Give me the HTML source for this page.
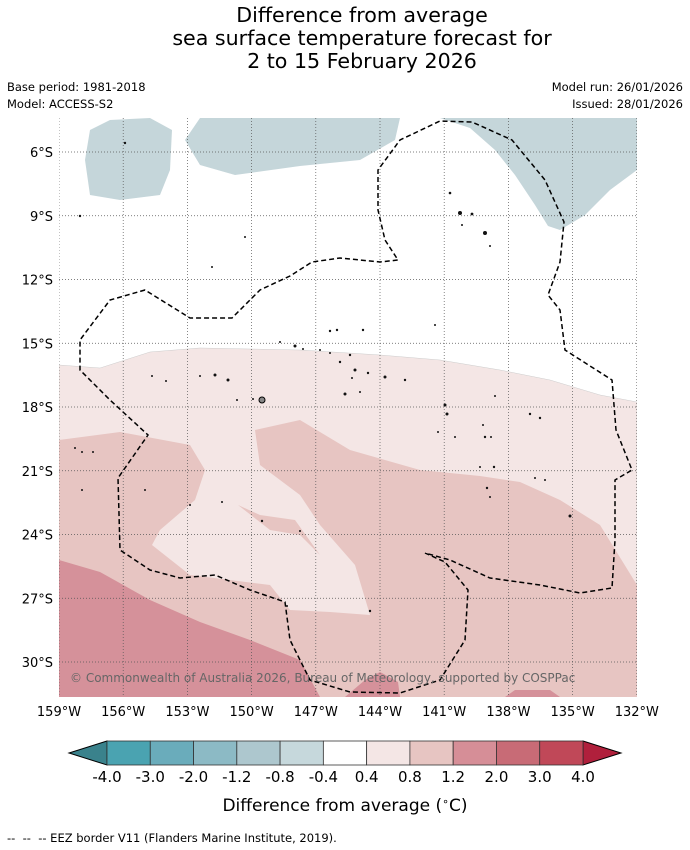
<!DOCTYPE html>
<html><head><meta charset="utf-8">
<style>
body{margin:0;background:#fff;font-family:"Liberation Sans","DejaVu Sans",sans-serif;}
#wrap{position:relative;width:690px;height:850px;overflow:hidden;}
svg text{font-family:"DejaVu Sans","Liberation Sans",sans-serif;}
</style></head>
<body>
<div id="wrap">
<svg id="svg" width="690" height="850" xmlns="http://www.w3.org/2000/svg">
<g font-size="20.6" text-anchor="middle" fill="#000">
<text x="362" y="22">Difference from average</text>
<text x="362" y="45">sea surface temperature forecast for</text>
<text x="362" y="68">2 to 15 February 2026</text>
</g>
<g font-size="11.5" fill="#000">
<text x="7" y="91">Base period: 1981-2018</text>
<text x="7" y="108">Model: ACCESS-S2</text>
<text x="683" y="91" text-anchor="end">Model run: 26/01/2026</text>
<text x="683" y="108" text-anchor="end">Issued: 28/01/2026</text>
</g>
<defs><clipPath id="mc"><rect x="59" y="118" width="578" height="579"/></clipPath></defs>
<g clip-path="url(#mc)">
<rect x="59" y="118" width="578" height="579" fill="#fff"/>
<path fill="#c5d6da" d="M90,130 L110,120 L150,118 L172,130 L170,170 L160,195 L120,200 L90,195 L85,160Z"/>
<path fill="#c5d6da" d="M200,118 L400,118 L395,140 L360,160 L300,166 L235,175 L200,165 L185,140Z"/>
<path fill="#c5d6da" d="M440,118 L637,118 L637,170 L610,190 L585,215 L560,230 L548,226 L535,205 L515,175 L495,150 L470,128Z"/>
<path fill="#f4e6e5" stroke="#ccc" stroke-width="0.5" d="M59,365 L100,368 L150,352 L200,348 L300,350 L380,355 L440,360 L500,370 L550,380 L600,395 L637,402 L637,697 L59,697Z"/>
<path fill="#e7c5c2" d="M59,440 L120,432 L190,445 L205,470 L195,500 L160,530 L152,545 L190,575 L230,580 L270,585 L290,610 L330,612 L370,615 L355,565 L320,525 L300,495 L260,465 L255,430 L300,420 L350,450 L420,470 L480,476 L520,482 L560,500 L600,525 L637,585 L637,697 L59,697Z"/>
<path fill="#e7c5c2" d="M238,505 L260,515 L295,520 L320,555 L300,535 L270,530Z"/>
<path fill="#d5919a" d="M59,560 L100,572 L150,600 L200,622 L250,640 L300,660 L320,697 L59,697Z"/>
<path fill="#d5919a" d="M345,697 L365,680 L380,672 L398,682 L400,697Z M505,697 L515,690 L550,690 L560,697Z"/>
<g id="grid" stroke="#555" stroke-width="0.7" stroke-dasharray="1,2"></g>
<path fill="none" stroke="#000" stroke-width="1.5" stroke-dasharray="5,3" d="M145,290 L110,300 L80,340 L80,370 L110,400 L148,435 L118,478 L120,550 L150,570 L180,578 L215,575 L250,590 L285,602 L290,640 L310,680 L350,692 L400,693 L440,680 L465,640 L468,590 L445,562 L425,553 L450,560 L490,578 L540,585 L580,593 L612,588 L615,540 L615,480 L632,470 L616,430 L612,380 L565,350 L560,310 L548,295 L560,262 L564,222 L545,180 L512,140 L472,122 L440,121 L400,140 L378,170 L378,210 L385,240 L398,260 L380,262 L340,258 L312,262 L290,276 L260,290 L232,318 L190,318 Z"/>
<g fill="#111">
<circle cx="125" cy="143" r="1.2"/><circle cx="80" cy="216" r="1.2"/><circle cx="245" cy="237" r="1"/><circle cx="212" cy="267" r="1"/>
<circle cx="450" cy="193" r="1.3"/><circle cx="460" cy="213" r="2"/><circle cx="472" cy="214" r="1.4"/><circle cx="485" cy="233" r="2"/><circle cx="462" cy="225" r="1"/><circle cx="490" cy="246" r="1"/>
<circle cx="330" cy="331" r="1.2"/><circle cx="337" cy="330" r="1.2"/><circle cx="363" cy="330" r="1.2"/><circle cx="435" cy="325" r="1"/>
<circle cx="280" cy="342" r="1"/><circle cx="295" cy="346" r="1.5"/><circle cx="303" cy="349" r="1"/><circle cx="320" cy="350" r="1"/><circle cx="330" cy="353" r="1"/><circle cx="350" cy="355" r="1.2"/>
<circle cx="340" cy="362" r="1.2"/><circle cx="355" cy="370" r="1.5"/><circle cx="368" cy="373" r="1.2"/><circle cx="385" cy="377" r="1.5"/><circle cx="405" cy="380" r="1.2"/><circle cx="352" cy="378" r="1"/>
<circle cx="215" cy="375" r="1.5"/><circle cx="228" cy="380" r="1.5"/><circle cx="200" cy="376" r="1"/><circle cx="166" cy="381" r="1"/><circle cx="152" cy="376" r="1"/>
<circle cx="262" cy="400" r="3" fill="#888" stroke="#000"/><circle cx="253" cy="399" r="1"/><circle cx="237" cy="400" r="1"/><circle cx="345" cy="394" r="1.5"/><circle cx="360" cy="392" r="1"/>
<circle cx="445" cy="405" r="1.5"/><circle cx="447" cy="414" r="1.5"/><circle cx="495" cy="396" r="1"/><circle cx="530" cy="414" r="1.2"/><circle cx="540" cy="418" r="1.2"/>
<circle cx="438" cy="432" r="1"/><circle cx="455" cy="437" r="1"/><circle cx="483" cy="425" r="1"/><circle cx="485" cy="437" r="1.2"/><circle cx="491" cy="437" r="1"/>
<circle cx="75" cy="448" r="1"/><circle cx="82" cy="452" r="1"/><circle cx="93" cy="452" r="1"/><circle cx="82" cy="490" r="1"/><circle cx="145" cy="490" r="1"/><circle cx="190" cy="505" r="1"/><circle cx="222" cy="502" r="1"/>
<circle cx="480" cy="467" r="1"/><circle cx="494" cy="467" r="1.2"/><circle cx="487" cy="488" r="1.2"/><circle cx="490" cy="497" r="1"/><circle cx="535" cy="478" r="1"/><circle cx="545" cy="480" r="1"/>
<circle cx="570" cy="516" r="1.5"/><circle cx="262" cy="521" r="1.2"/><circle cx="300" cy="531" r="1"/><circle cx="370" cy="611" r="1.2"/><circle cx="287" cy="606" r="1"/>
</g>
<text x="70" y="682" font-size="12" fill="#666">© Commonwealth of Australia 2026, Bureau of Meteorology, supported by COSPPac</text>
</g>
<g id="axes" font-size="13" fill="#000"></g>
<g id="cbar"></g>
<text x="345" y="811" font-size="17" text-anchor="middle">Difference from average (<tspan font-size="11" dy="-6">∘</tspan><tspan dy="6">C)</tspan></text>
<text x="7" y="842" font-size="11.5">-- &#160;-- &#160;-- EEZ border V11 (Flanders Marine Institute, 2019).</text>
</svg>
</div>
<script>
const lonTicks=[-159,-156,-153,-150,-147,-144,-141,-138,-135,-132];
const latTicks=[-6,-9,-12,-15,-18,-21,-24,-27,-30];
const cbarLevels=[-4.0,-3.0,-2.0,-1.2,-0.8,-0.4,0.4,0.8,1.2,2.0,3.0,4.0];
const cbarColors=["#4aa3b1","#6aacbb","#8cbac5","#adc7ce","#c6d8dc","#ffffff","#f4e6e5","#e7c5c2","#d68e97","#c86b76","#c04858"];
const cbarLowColor="#3a828c";
const cbarHighColor="#b0203c";
const NS="http://www.w3.org/2000/svg";
const xOf=lon=>59+(lon+159)*21.4;
const yOf=lat=>152+(-6-lat)*21.25;
function mk(tag,attrs,parent){const e=document.createElementNS(NS,tag);for(const k in attrs)e.setAttribute(k,attrs[k]);parent.appendChild(e);return e;}
const grid=document.getElementById('grid'),axes=document.getElementById('axes');
lonTicks.forEach(l=>{
  const x=xOf(l);
  const gl=mk('line',{x1:x,x2:x,y1:118,y2:697},grid);
  
  
  const t=mk('text',{x:x,y:716,'text-anchor':'middle'},axes);
  t.textContent=Math.abs(l)+'°W';
  
  
});
latTicks.forEach(l=>{
  const y=yOf(l);
  const gl=mk('line',{x1:59,x2:637,y1:y,y2:y},grid);
  
  
  const t=mk('text',{x:53,y:y+5,'text-anchor':'end'},axes);
  t.textContent=Math.abs(l)+'°S';
  
  
});
const cb=document.getElementById('cbar');
const bx0=107,bx1=583,by0=741,by1=765,n=cbarColors.length,bw=(bx1-bx0)/n;
const lt=mk('polygon',{points:`${bx0},${by0} 69,${(by0+by1)/2} ${bx0},${by1}`,fill:cbarLowColor,stroke:'#000','stroke-width':1},cb);


const rt=mk('polygon',{points:`${bx1},${by0} 621,${(by0+by1)/2} ${bx1},${by1}`,fill:cbarHighColor,stroke:'#000','stroke-width':1},cb);


cbarColors.forEach((c,i)=>{
  const r=mk('rect',{x:bx0+i*bw,y:by0,width:bw,height:by1-by0,fill:c,stroke:'#333','stroke-width':0.8},cb);
  
  
});
cbarLevels.forEach((v,i)=>{
  const t=mk('text',{x:bx0+i*bw,y:782,'text-anchor':'middle','font-size':15},cb);
  t.textContent=v.toFixed(1);
  
  
});
</script>
</body></html>
